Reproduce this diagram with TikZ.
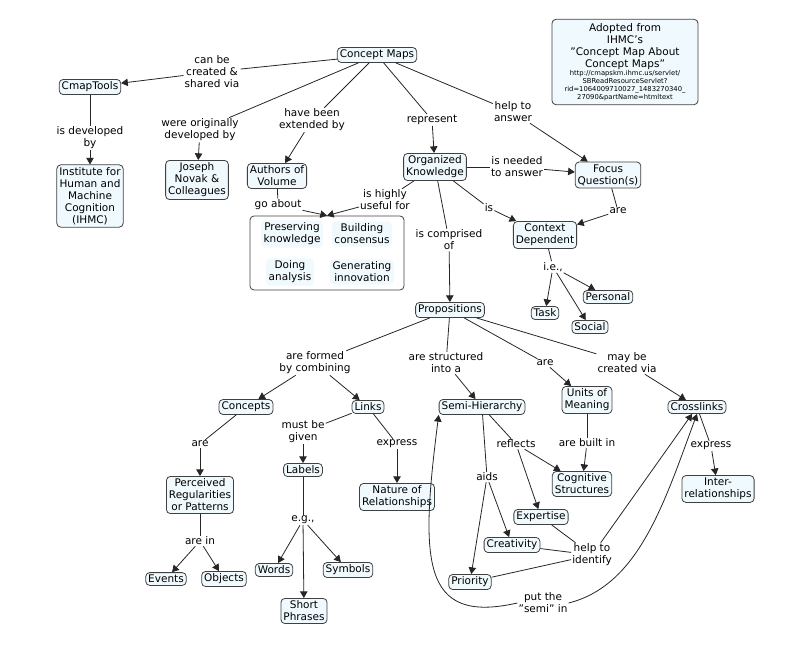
\documentclass[tikz,border=0pt]{standalone}
\usepackage{fontspec}
\setmainfont{DejaVu Sans}
\usetikzlibrary{arrows,shapes,positioning}
\tikzstyle{concept} = [draw=black!75, thick, rounded corners=4pt, fill=cyan!6, align=center, inner sep=2.5pt, font=\fontsize{10.5}{12}\selectfont]
\tikzstyle{lbl} = [align=center, inner sep=1pt, fill=white, font=\fontsize{10.5}{12}\selectfont]
\tikzstyle{link} = [-, thick, black!85]
\tikzstyle{arrow} = [->, thick, >=triangle 60, black!85]
\begin{document}
\begin{tikzpicture}[x=1pt,y=-1pt]
\useasboundingbox (0,0) rectangle (803,650);
% concepts
\node (cm) [concept] at (377,55) {Concept Maps};
\node (ct) [concept] at (90,87) {CmapTools};
\node (ihmc) [concept] at (90,196) {Institute for\\Human and\\Machine\\Cognition\\(IHMC)};
\node (jn) [concept] at (197,180) {Joseph\\Novak \&\\Colleagues};
\node (av) [concept] at (277,176) {Authors of\\Volume};
\node (ok) [concept] at (435,167) {Organized\\Knowledge};
\node (fq) [concept] at (608,175) {Focus\\Question(s)};
\node (cd) [concept] at (545,235) {Context\\Dependent};
\node (task) [concept] at (545,313) {Task};
\node (social) [concept] at (590,327) {Social};
\node (personal) [concept] at (608,297) {Personal};
\node (group) [draw=black!75, thick, rounded corners=4pt, minimum width=154pt, minimum height=74pt] at (327,253) {};
\node (pk) [concept, draw=none] at (292,234) {Preserving\\knowledge};
\node (bc) [concept, draw=none] at (362,234) {Building\\consensus};
\node (da) [concept, draw=none] at (290,272) {Doing\\analysis};
\node (gi) [concept, draw=none] at (362,272) {Generating\\innovation};
\node (src) [concept, text width=138pt, inner sep=4pt] at (625,62) {Adopted from\\IHMC's\\"Concept Map About\\Concept Maps"\\{\fontsize{6.8}{8}\selectfont http://cmapskm.ihmc.us/servlet/\\SBReadResourceServlet?\\rid=1064009710027\_1483270340\_\\27090\&partName=htmltext\par}};
\node (prop) [concept] at (450,310) {Propositions};
\node (conc) [concept] at (246,407) {Concepts};
\node (links) [concept] at (368,407) {Links};
\node (sh) [concept] at (482,407) {Semi-Hierarchy};
\node (um) [concept] at (587,400) {Units of\\Meaning};
\node (cl) [concept] at (697,407) {Crosslinks};
\node (pr) [concept] at (200,495) {Perceived\\Regularities\\or Patterns};
\node (labels) [concept] at (303,470) {Labels};
\node (nr) [concept] at (397,497) {Nature of\\Relationships};
\node (cs) [concept] at (582,484) {Cognitive\\Structures};
\node (ir) [concept] at (718,489) {Inter-\\relationships};
\node (events) [concept] at (166,579) {Events};
\node (objects) [concept] at (224,579) {Objects};
\node (words) [concept] at (274,570) {Words};
\node (symbols) [concept] at (348,570) {Symbols};
\node (sp) [concept] at (304,611) {Short\\Phrases};
\node (exp) [concept] at (541,517) {Expertise};
\node (crea) [concept] at (512,545) {Creativity};
\node (prio) [concept] at (470,582) {Priority};
% linking phrases
\node (l1) [lbl] at (212,72) {can be\\created \&\\shared via};
\node (l2) [lbl] at (90,138) {is developed\\by};
\node (l3) [lbl] at (200,130) {were originally\\developed by};
\node (l4) [lbl] at (312,120) {have been\\extended by};
\node (l5) [lbl] at (432,120) {represent};
\node (l6) [lbl] at (513,112) {help to\\answer};
\node (l7) [lbl] at (517,167) {is needed\\to answer};
\node (l8) [lbl] at (385,200) {is highly\\useful for};
\node (l9) [lbl] at (278,205) {go about};
\node (l10) [lbl] at (489,208) {is};
\node (l11) [lbl] at (618,211) {are};
\node (l12) [lbl] at (449,240) {is comprised\\of};
\node (l13) [lbl] at (553,267) {i.e.,};
\node (l14) [lbl] at (315,363) {are formed\\by combining};
\node (l15) [lbl] at (446,363) {are structured\\into a};
\node (l16) [lbl] at (545,363) {are};
\node (l17) [lbl] at (627,363) {may be\\created via};
\node (l18) [lbl] at (200,444) {are};
\node (l19) [lbl] at (303,432) {must be\\given};
\node (l20) [lbl] at (397,444) {express};
\node (l21) [lbl] at (516,444) {reflects};
\node (l22) [lbl] at (587,443) {are built in};
\node (l23) [lbl] at (711,446) {express};
\node (l24) [lbl] at (487,477) {aids};
\node (l25) [lbl] at (592,555) {help to\\identify};
\node (l26) [lbl] at (200,541) {are in};
\node (l27) [lbl] at (303,520) {e.g.,};
\node (l28) [lbl] at (543,603) {put the\\"semi" in};
% connectors
\draw [link] (cm) -- (l1); \draw [arrow] (l1) -- (ct);
\draw [link] (ct) -- (l2); \draw [arrow] (l2) -- (ihmc);
\draw [link] (cm) -- (l3); \draw [arrow] (l3) -- (jn);
\draw [link] (cm) -- (l4); \draw [arrow] (l4) -- (av);
\draw [link] (cm) -- (l5); \draw [arrow] (l5) -- (ok);
\draw [link] (cm) -- (l6); \draw [arrow] (l6) -- (fq);
\draw [link] (ok) -- (l7); \draw [arrow] (l7) -- (fq);
\draw [link] (ok) -- (l8); \draw [arrow] (l8) -- (group.north);
\draw [link] (av) -- (l9); \draw [arrow] (l9) -- (group.north);
\draw [link] (ok) -- (l10); \draw [arrow] (l10) -- (cd);
\draw [link] (fq) -- (l11); \draw [arrow] (l11) -- (cd);
\draw [link] (ok) -- (l12); \draw [arrow] (l12) -- (prop);
\draw [link] (cd) -- (l13);
\draw [arrow] (l13) -- (task); \draw [arrow] (l13) -- (social); \draw [arrow] (l13) -- (personal);
\draw [link] (prop) -- (l14); \draw [arrow] (l14) -- (conc); \draw [arrow] (l14) -- (links);
\draw [link] (prop) -- (l15); \draw [arrow] (l15) -- (sh);
\draw [link] (prop) -- (l16); \draw [arrow] (l16) -- (um);
\draw [link] (prop) -- (l17); \draw [arrow] (l17) -- (cl);
\draw [link] (conc) -- (l18); \draw [arrow] (l18) -- (pr);
\draw [link] (links) -- (l19); \draw [arrow] (l19) -- (labels);
\draw [link] (links) -- (l20); \draw [arrow] (l20) -- (nr);
\draw [link] (sh) -- (l21); \draw [arrow] (l21) -- (cs); \draw [arrow] (l21) -- (exp);
\draw [link] (um) -- (l22); \draw [arrow] (l22) -- (cs);
\draw [link] (cl) -- (l23); \draw [arrow] (l23) -- (ir);
\draw [link] (sh) -- (l24); \draw [arrow] (l24) -- (crea); \draw [arrow] (l24) -- (prio);
\draw [link] (exp) -- (l25); \draw [link] (crea) -- (l25); \draw [link] (prio) -- (l25);
\draw [arrow] (l25) -- (cl);
\draw [link] (pr) -- (l26); \draw [arrow] (l26) -- (events); \draw [arrow] (l26) -- (objects);
\draw [link] (labels) -- (l27); \draw [arrow] (l27) -- (words); \draw [arrow] (l27) -- (symbols); \draw [arrow] (l27) -- (sp);
\draw [arrow] (l28.west) .. controls (420,625) and (420,560) .. (sh.south west);
\draw [arrow] (l28.east) .. controls (640,585) and (665,500) .. (cl.south);
\end{tikzpicture}
\end{document}
